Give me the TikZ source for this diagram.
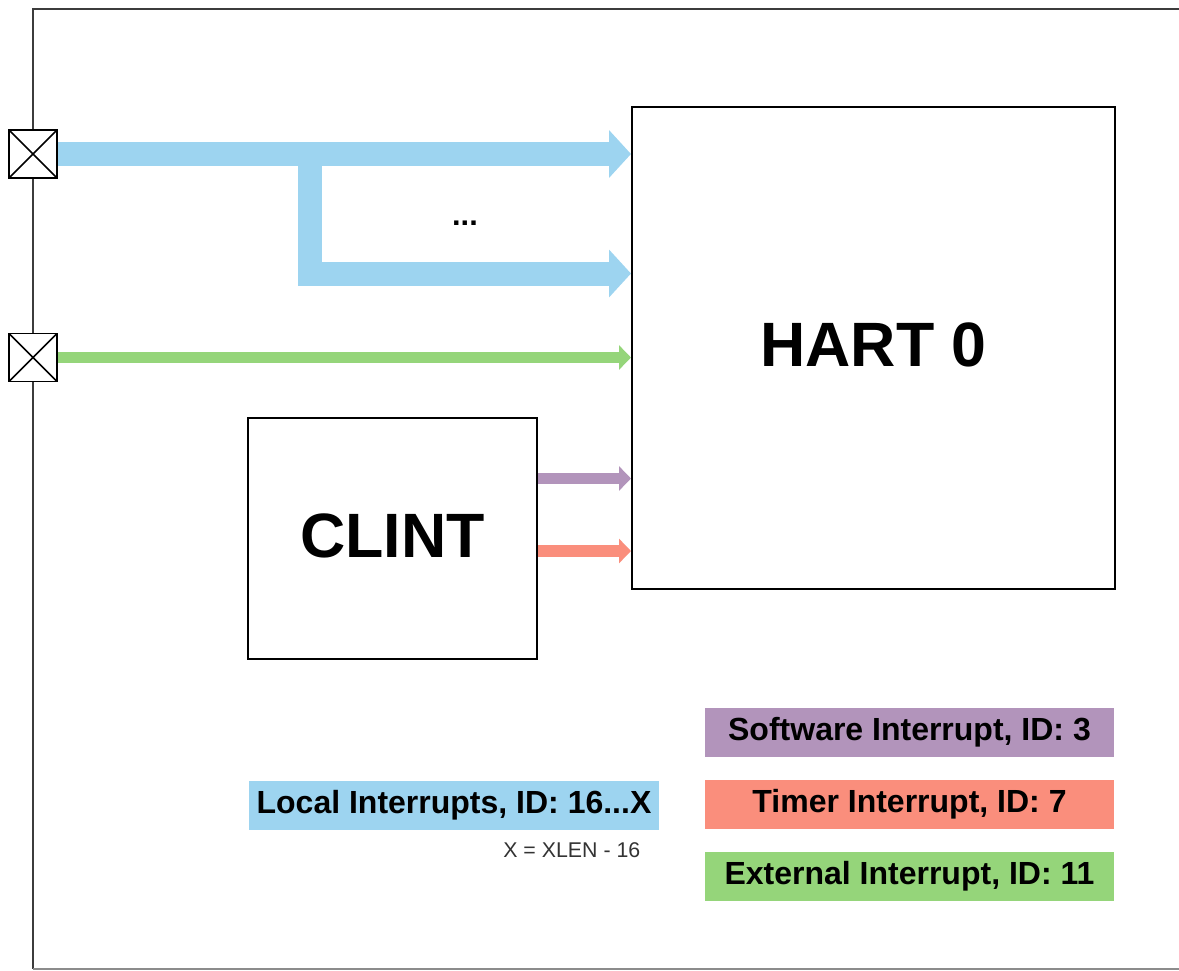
\documentclass[tikz,border=0pt]{standalone}
\usepackage{fontspec}
\setmainfont{Liberation Sans}
\usetikzlibrary{arrows.meta,calc}

\definecolor{localblue}{RGB}{157,212,240}
\definecolor{swpurple}{RGB}{178,148,187}
\definecolor{timersalmon}{RGB}{250,142,124}
\definecolor{extgreen}{RGB}{149,213,122}
\definecolor{framegray}{RGB}{60,60,60}

\tikzset{
  block/.style={draw=black, line width=1.5pt, fill=white, inner sep=0pt,
    font=\fontsize{47}{50}\selectfont\bfseries},
  pad/.style={draw=black, line width=1.4pt, fill=white, inner sep=0pt,
    minimum size=36pt,
    path picture={\draw[line width=1.2pt]
      (path picture bounding box.south west) -- (path picture bounding box.north east)
      (path picture bounding box.north west) -- (path picture bounding box.south east);}},
  legend/.style={inner sep=0pt, minimum width=307pt, minimum height=36.75pt,
    font=\fontsize{24}{26}\selectfont\bfseries},
  bus/.style={draw=localblue, line width=18pt, line join=miter,
    -{Triangle[length=16.5pt,width=35pt]}},
  wire/.style={line width=8.5pt, -{Triangle[length=9pt,width=18pt]}},
}

\begin{document}
\begin{tikzpicture}[x=0.75pt,y=-0.75pt]
  \useasboundingbox (0,0) rectangle (1179,971);

  % chip outline, open to the right
  \draw[framegray, line width=1.5pt] (1179,9) -- (33,9) -- (33,969);
  \draw[black!45, line width=1.5pt] (33,969) -- (1179,969);

  % blocks
  \node[block, minimum width=362.25pt, minimum height=361.5pt] (hart) at (873.5,348) {\raisebox{5.25pt}{HART 0}};
  \node[block, minimum width=216.75pt, minimum height=180.75pt] (clint) at (392.5,538.5) {\raisebox{4.5pt}{CLINT}};

  % input pads
  \node[pad] (padL) at (33,154) {};
  \node[pad] (padE) at (33,357.5) {};

  % local interrupt bus and its branch
  \coordinate (branch) at (309.5,154);
  \coordinate (lower) at (309.5,273.5);
  \draw[bus] (padL.east) -- (padL.east -| hart.west);
  \draw[bus] (branch) |- (lower -| hart.west);
  \node[anchor=base, font=\fontsize{23}{24}\selectfont\bfseries] (dots) at (465,225) {...};

  % external interrupt
  \draw[wire, draw=extgreen] (padE.east) -- (padE.east -| hart.west);

  % CLINT interrupts
  \coordinate (swy) at (537,478.5);
  \coordinate (tmy) at (537,551);
  \draw[wire, draw=swpurple] (clint.east |- swy) -- (swy -| hart.west);
  \draw[wire, draw=timersalmon] (clint.east |- tmy) -- (tmy -| hart.west);

  % legend
  \node[legend, fill=swpurple] (lsw) at (909.5,732.5) {Software Interrupt, ID: 3};
  \node[legend, fill=timersalmon] (ltm) at (909.5,804.5) {Timer Interrupt, ID: 7};
  \node[legend, fill=extgreen] (lext) at (909.5,876.5) {External Interrupt, ID: 11};
  \node[legend, fill=localblue] (lloc) at (454,805) {Local Interrupts, ID: 16...X};
  \node[anchor=east, text=black!80, font=\fontsize{16}{18}\selectfont] (xlen) at (645,850) {X = XLEN - 16};
\end{tikzpicture}
\end{document}
